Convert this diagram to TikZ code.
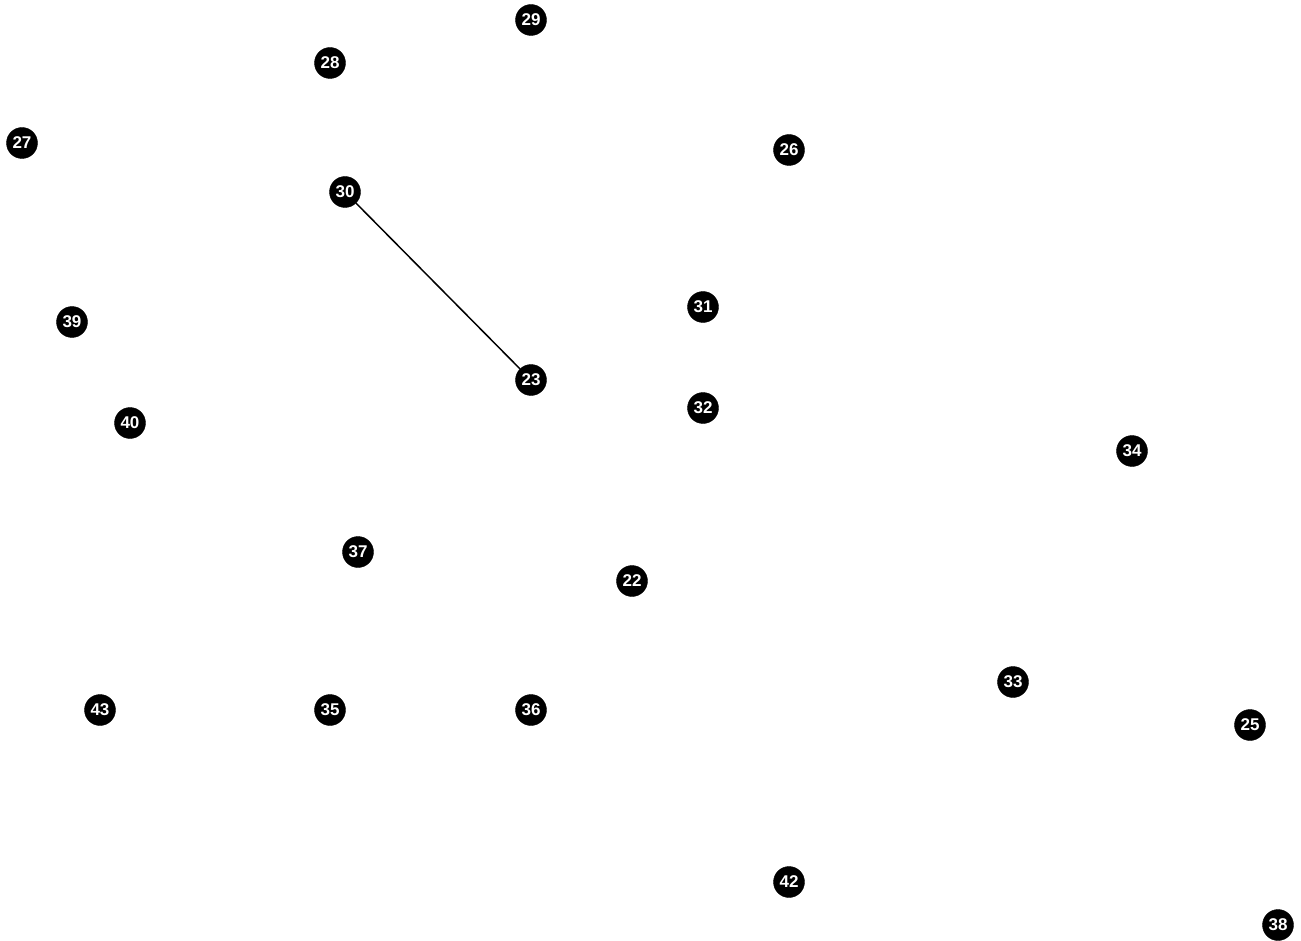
\documentclass[tikz,border=0pt]{standalone}
\usepackage{fontspec}
\setmainfont{Liberation Sans}
\begin{document}
\begin{tikzpicture}[x=1pt,y=-1pt,
  vtx/.style={circle,fill=black,draw=black,minimum size=31pt,inner sep=0pt,text=white,font=\bfseries\fontsize{17}{18}\selectfont}]
\useasboundingbox (0,0) rectangle (1301,941);
\node[vtx] (n29) at (531,20) {29};
\node[vtx] (n28) at (330,63) {28};
\node[vtx] (n27) at (22,143) {27};
\node[vtx] (n26) at (789,150) {26};
\node[vtx] (n30) at (345,192) {30};
\node[vtx] (n31) at (703,307) {31};
\node[vtx] (n39) at (72,322) {39};
\node[vtx] (n23) at (531,380) {23};
\node[vtx] (n32) at (703,408) {32};
\node[vtx] (n40) at (130,423) {40};
\node[vtx] (n34) at (1132,451) {34};
\node[vtx] (n37) at (358,552) {37};
\node[vtx] (n22) at (632,581) {22};
\node[vtx] (n33) at (1013,682) {33};
\node[vtx] (n43) at (100,710) {43};
\node[vtx] (n35) at (330,710) {35};
\node[vtx] (n36) at (531,710) {36};
\node[vtx] (n25) at (1250,725) {25};
\node[vtx] (n42) at (789,882) {42};
\node[vtx] (n38) at (1278,925) {38};
\draw[line width=1.5pt] (n30) -- (n23);
\end{tikzpicture}
\end{document}
